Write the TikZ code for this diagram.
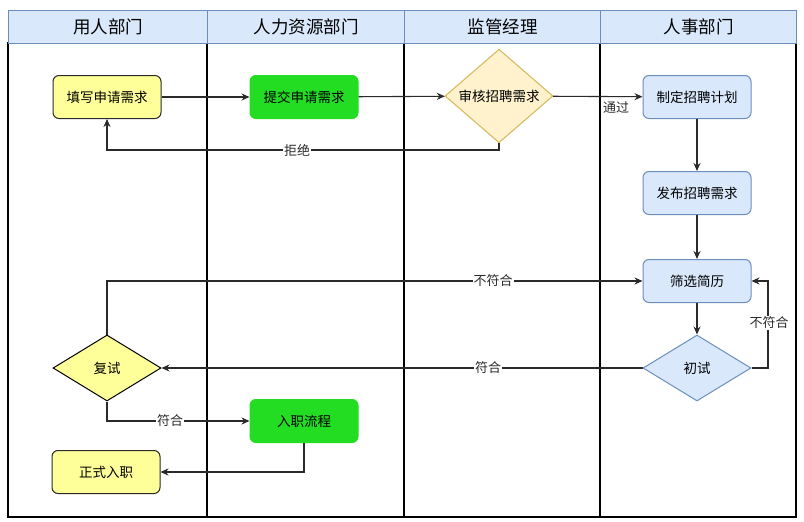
\documentclass[tikz,border=0pt]{standalone}
\usepackage{fontspec}
\setmainfont{Noto Sans CJK SC}
\usetikzlibrary{shapes.geometric,arrows.meta}
\definecolor{hdrfill}{HTML}{DAE8FC}
\definecolor{hdrline}{HTML}{6C8EBF}
\definecolor{yel}{HTML}{FFFF99}
\definecolor{grn}{HTML}{22DD22}
\definecolor{dyel}{HTML}{FFF2CC}
\definecolor{dyelline}{HTML}{D6B656}
\definecolor{conn}{HTML}{2A2A2A}
\tikzset{
  hdr/.style={draw=hdrline, fill=hdrfill, line width=1.2pt, font=\fontsize{17.5}{19}\selectfont},
  lane/.style={draw=black, line width=1.6pt},
  boxbase/.style={rectangle, rounded corners=6pt, minimum width=108pt, minimum height=43pt, inner sep=0pt, font=\fontsize{13.5}{15}\selectfont, line width=1pt},
  ybox/.style={boxbase, draw=conn, fill=yel},
  gbox/.style={boxbase, draw=grn, fill=grn},
  bbox/.style={boxbase, draw=hdrline, fill=hdrfill},
  dia/.style={diamond, minimum width=108pt, minimum height=66pt, inner sep=0pt, font=\fontsize{13.5}{15}\selectfont, line width=1pt},
  flow/.style={draw=conn, line width=1.1pt, -{Stealth[length=8pt,width=7pt]}},
  lbl/.style={fill=white, inner sep=1pt, font=\fontsize{13}{14}\selectfont, text=conn}
}
\begin{document}
\begin{tikzpicture}[x=1pt,y=-1pt]
\useasboundingbox (0,0) rectangle (804,522);
% lanes
\draw[lane] (8,43) rectangle (796,517);
\draw[lane] (207,43) -- (207,517);
\draw[lane] (404,43) -- (404,517);
\draw[lane] (600,43) -- (600,517);
% headers
\node[hdr, minimum width=199pt, minimum height=33pt, anchor=north west] (h1) at (8,10) {用人部门};
\node[hdr, minimum width=197pt, minimum height=33pt, anchor=north west] (h2) at (207,10) {人力资源部门};
\node[hdr, minimum width=196pt, minimum height=33pt, anchor=north west] (h3) at (404,10) {监管经理};
\node[hdr, minimum width=196pt, minimum height=33pt, anchor=north west] (h4) at (600,10) {人事部门};
% nodes
\node[ybox] (fill) at (107,97) {填写申请需求};
\node[gbox] (submit) at (304,97) {提交申请需求};
\node[dia, draw=dyelline, fill=dyel] (review) at (499,96) {审核招聘需求};
\node[bbox] (plan) at (697,97) {制定招聘计划};
\node[bbox] (publish) at (697,193) {发布招聘需求};
\node[bbox] (screen) at (697,281) {筛选简历};
\node[dia, draw=hdrline, fill=hdrfill] (first) at (697,368) {初试};
\node[dia, draw=black, fill=yel] (second) at (107,368) {复试};
\node[gbox] (onboard) at (304,421) {入职流程};
\node[ybox] (formal) at (106,472) {正式入职};
% connectors
\draw[flow] (fill) -- (submit);
\draw[flow] (submit) -- (review);
\draw[flow] (review) -- (plan);
\node[lbl, fill=none] (pass) at (616,108) {通过};
\draw[flow] (review.south) |- (300,150) -| (fill.south);
\node[lbl] (reject) at (297,150) {拒绝};
\draw[flow] (plan) -- (publish);
\draw[flow] (publish) -- (screen);
\draw[flow] (screen) -- (first);
\draw[flow] (first.east) -- (768,368) |- (screen.east);
\node[lbl] (nf1) at (769,323) {不符合};
\draw[flow] (first) -- (second);
\node[lbl] (ok1) at (488,368) {符合};
\draw[flow] (second.north) |- (screen.west);
\node[lbl] (nf2) at (493,281) {不符合};
\draw[flow] (second.south) |- (onboard.west);
\node[lbl] (ok2) at (170,421) {符合};
\draw[flow] (onboard.south) |- (formal.east);
\end{tikzpicture}
\end{document}
